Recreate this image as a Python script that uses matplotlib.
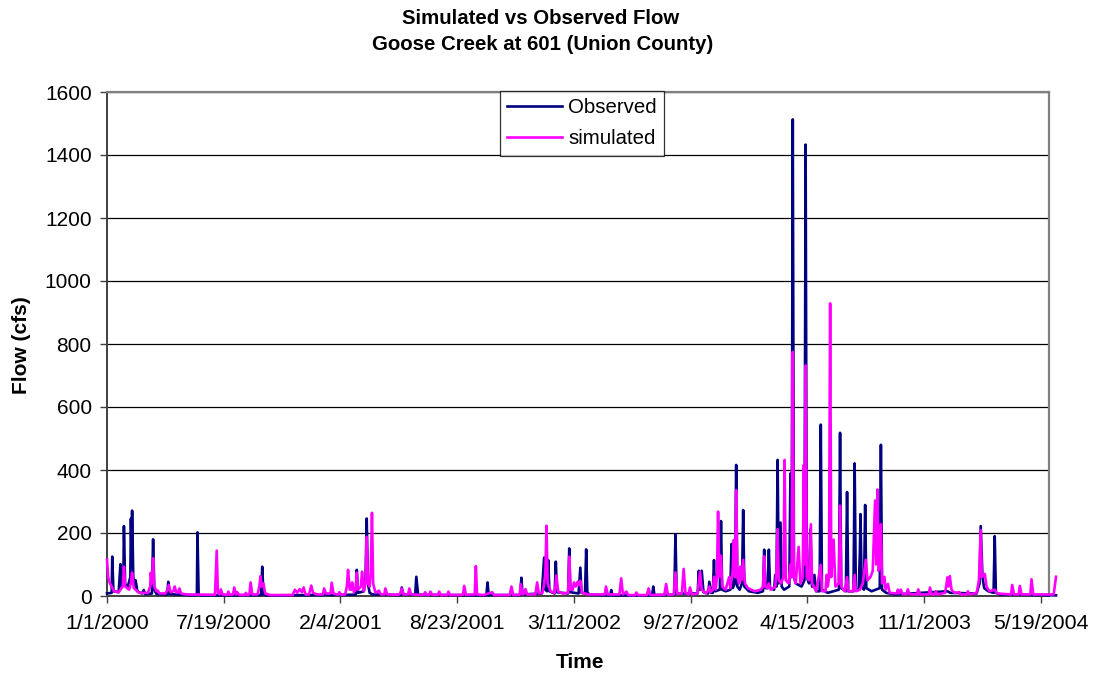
import matplotlib
matplotlib.use("Agg")
import matplotlib.pyplot as plt

# ---- data (day offset from 1/1/2000, flow in cfs) ----
obs_day = [0, 8, 9, 11, 20, 23, 25, 28, 29, 31, 35, 40, 41, 42, 43, 45, 48, 49, 52, 60, 63, 65, 77, 79, 81, 85,
           103, 105, 107, 150, 154, 155, 157, 160, 264, 266, 268, 275, 426, 428, 430, 440, 443, 445, 447, 450, 455,
           503, 505, 508, 528, 530, 533, 650, 652, 654, 708, 710, 712, 745, 749, 751, 754, 756, 758, 767, 769, 771,
           790, 792, 794, 808, 811, 813, 819, 821, 823, 828, 862, 864, 866, 934, 936, 938, 972, 974, 976, 1012, 1014,
           1016, 1019, 1022, 1030, 1032, 1035, 1038, 1040, 1042, 1050, 1052, 1054, 1060, 1068, 1070, 1072, 1076, 1078,
           1080, 1084, 1088, 1090, 1092, 1100, 1115, 1124, 1126, 1128, 1132, 1134, 1136, 1143, 1145, 1147, 1149, 1151,
           1154, 1156, 1160, 1169, 1171, 1173, 1175, 1177, 1180, 1190, 1195, 1197, 1199, 1203, 1205, 1208, 1212, 1215,
           1221, 1223, 1225, 1235, 1254, 1256, 1258, 1266, 1268, 1270, 1279, 1281, 1283, 1288, 1290, 1291, 1293, 1297,
           1299, 1301, 1310, 1324, 1326, 1328, 1335, 1350, 1440, 1445, 1490, 1495, 1497, 1500, 1503, 1510, 1519, 1521,
           1523, 1530, 1600, 1626]
obs_flow = [8, 10, 125, 15, 12, 101, 30, 40, 222, 40, 25, 60, 246, 120, 271, 60, 30, 50, 15, 8, 19, 6, 8, 180, 20, 6,
            5, 45, 6, 2, 3, 202, 5, 2, 3, 93, 5, 2, 4, 83, 10, 15, 60, 246, 40, 10, 5,
            3, 27, 5, 4, 61, 4, 2, 43, 3, 3, 58, 5, 8, 122, 20, 15, 114, 15, 8, 109, 12,
            8, 151, 12, 8, 90, 10, 8, 148, 10, 4, 2, 19, 2, 2, 30, 3, 4, 196, 8, 8, 80,
            20, 80, 12, 8, 45, 10, 10, 114, 15, 20, 238, 20, 15, 20, 165, 25, 40, 416,
            30, 20, 40, 273, 30, 15, 10, 15, 147, 25, 25, 147, 25, 20, 67, 30, 432, 40,
            233, 30, 20, 30, 389, 60, 1513, 60, 40, 30, 50, 1433, 60, 40, 212, 30, 67, 15,
            15, 544, 20, 10, 20, 518, 25, 15, 330, 15, 15, 421, 20, 20, 142, 260, 30, 20,
            289, 25, 15, 25, 480, 20, 10, 5, 15, 10, 8, 40, 222, 60, 25, 15, 10, 190,
            10, 5, 3, 2]

sim_day = [0, 2, 5, 8, 12, 20, 27, 29, 31, 38, 41, 43, 46, 55, 70, 74, 75, 77, 79, 81, 85, 87, 90, 100, 104, 106, 109,
           114, 116, 119, 122, 124, 127, 135, 185, 188, 190, 193, 195, 198, 206, 208, 210, 216, 218, 221, 223, 226, 236,
           238, 240, 244, 246, 249, 258, 261, 263, 265, 268, 271, 280, 318, 322, 326, 330, 334, 337, 340, 346, 350, 353,
           360, 370, 372, 375, 383, 385, 388, 396, 398, 401, 408, 411, 413, 416, 418, 420, 423, 426, 428, 430, 435, 437,
           440, 443, 445, 447, 450, 452, 454, 456, 460, 466, 469, 475, 477, 480, 500, 503, 505, 508, 516, 518, 521, 543,
           545, 548, 552, 554, 557, 567, 569, 572, 583, 585, 588, 610, 612, 615, 630, 632, 634, 645, 660, 663, 690, 693,
           696, 707, 709, 712, 715, 717, 720, 734, 737, 740, 746, 749, 751, 753, 755, 760, 767, 770, 773, 780, 790, 792,
           794, 798, 800, 803, 806, 808, 811, 814, 825, 853, 855, 858, 878, 881, 884, 890, 893, 905, 907, 910, 925, 928,
           931, 955, 958, 961, 971, 974, 977, 985, 988, 991, 996, 999, 1002, 1012, 1016, 1019, 1026, 1029, 1032, 1034,
           1038, 1040, 1043, 1045, 1047, 1049, 1052, 1054, 1060, 1066, 1068, 1072, 1074, 1076, 1078, 1080, 1083, 1085,
           1087, 1090, 1093, 1098, 1110, 1120, 1124, 1126, 1128, 1132, 1134, 1137, 1145, 1147, 1149, 1151, 1155, 1159,
           1161, 1163, 1168, 1171, 1173, 1175, 1177, 1180, 1185, 1188, 1192, 1194, 1195, 1197, 1199, 1203, 1206, 1208,
           1215, 1223, 1225, 1231, 1233, 1235, 1237, 1239, 1241, 1245, 1248, 1254, 1256, 1258, 1264, 1268, 1270, 1278,
           1281, 1283, 1290, 1295, 1300, 1303, 1308, 1312, 1316, 1318, 1320, 1322, 1324, 1326, 1328, 1332, 1334, 1338,
           1341, 1353, 1355, 1357, 1360, 1363, 1370, 1372, 1375, 1388, 1390, 1393, 1408, 1410, 1413, 1418, 1420, 1423,
           1436, 1440, 1442, 1444, 1447, 1452, 1460, 1463, 1473, 1475, 1478, 1490, 1494, 1497, 1499, 1504, 1507, 1512,
           1521, 1525, 1549, 1551, 1554, 1562, 1564, 1567, 1582, 1584, 1587, 1622, 1626]
sim_flow = [116, 60, 40, 30, 15, 12, 30, 93, 30, 20, 40, 74, 25, 10, 10, 30, 74, 40, 120, 30, 15, 17, 8, 8, 20, 35, 12,
            15, 30, 10, 12, 24, 8, 5, 4, 144, 10, 5, 21, 5, 4, 14, 4, 5, 27, 5, 12, 4, 3,
            10, 3, 5, 43, 5, 5, 30, 63, 30, 40, 8, 3, 3, 20, 10, 22, 12, 27, 5, 5, 33, 10,
            5, 5, 24, 8, 8, 42, 8, 4, 12, 4, 5, 30, 83, 20, 20, 43, 12, 20, 74, 20, 30, 77,
            15, 40, 188, 40, 30, 80, 264, 40, 10, 17, 5, 5, 24, 5, 4, 10, 24, 5, 5, 24, 5, 3,
            12, 3, 4, 14, 4, 4, 14, 3, 3, 14, 3, 4, 32, 4, 5, 95, 5, 3, 12, 3, 3, 30,
            3, 4, 38, 5, 8, 22, 5, 5, 43, 8, 10, 40, 70, 223, 40, 15, 10, 65, 15, 8, 10, 125,
            20, 20, 43, 30, 45, 35, 48, 10, 5, 5, 30, 5, 5, 56, 5, 14, 3, 3, 11, 3, 3, 24,
            3, 4, 38, 4, 5, 75, 8, 8, 86, 10, 5, 27, 5, 8, 77, 20, 8, 15, 30, 12,
            20, 61, 20, 60, 268, 60, 128, 30, 20, 60, 25, 80, 178, 60, 336, 60, 40, 93,
            50, 115, 40, 25, 15, 20, 30, 126, 30, 25, 40, 20, 30, 80, 212, 50, 40, 60,
            432, 50, 40, 100, 60, 775, 60, 40, 156, 40, 60, 416, 100, 732, 60, 50, 228, 40,
            15, 99, 15, 15, 67, 30, 60, 929, 60, 179, 30, 40, 287, 30, 15, 60, 15, 15,
            67, 15, 20, 40, 115, 50, 60, 80, 303, 100, 338, 80, 100, 228, 40, 61, 20, 38,
            10, 8, 20, 8, 20, 6, 6, 21, 6, 5, 21, 5, 5, 27, 5, 5, 15, 5,
            10, 59, 30, 63, 20, 10, 12, 5, 5, 15, 5, 10, 50, 209, 60, 70, 30, 15,
            20, 8, 5, 35, 5, 5, 32, 5, 5, 53, 5, 5, 61]

tick_days = [0, 200, 400, 600, 800, 1000, 1200, 1400, 1600]
tick_labels = ['1/1/2000', '7/19/2000', '2/4/2001', '8/23/2001', '3/11/2002',
               '9/27/2002', '4/15/2003', '11/1/2003', '5/19/2004']
y_ticks = [0, 200, 400, 600, 800, 1000, 1200, 1400, 1600]

plt.rcParams['font.family'] = ['Liberation Sans', 'DejaVu Sans']

W, H = 1096, 677
fig = plt.figure(figsize=(W / 100, H / 100), dpi=100)
fig.patch.set_facecolor('white')
ax = fig.add_axes([107 / W, 1 - 596 / H, (1049 - 107) / W, (596 - 92) / H])

ax.plot(obs_day, obs_flow, color='#000080', lw=1.9, label='Observed', clip_on=False, zorder=3)
ax.plot(sim_day, sim_flow, color='#FF00FF', lw=1.9, label='simulated', clip_on=False, zorder=4)

ax.set_xlim(0, 1614)
ax.set_ylim(0, 1600)
ax.set_yticks(y_ticks)
ax.set_yticklabels([str(v) for v in y_ticks], fontsize=15)
ax.set_xticks(tick_days)
ax.set_xticklabels(tick_labels, fontsize=15.4)
ax.tick_params(axis='both', direction='out', length=5, width=1, color='#404040', pad=6)
ax.tick_params(axis='x', pad=8)

ax.yaxis.grid(True, color='black', lw=0.9, zorder=0)
ax.set_axisbelow(True)
for s in ['top', 'right']:
    ax.spines[s].set_color('#808080')
    ax.spines[s].set_linewidth(1.6)
for s in ['left', 'bottom']:
    ax.spines[s].set_color('#404040')
    ax.spines[s].set_linewidth(1.4)

fig.text(541 / W, 1 - 19 / H, 'Simulated vs Observed Flow', ha='center', va='center',
         fontsize=14.7, fontweight='bold')
fig.text(543 / W, 1 - 44 / H, 'Goose Creek at 601 (Union County)', ha='center', va='center',
         fontsize=14.7, fontweight='bold')
fig.text(22 / W, 1 - 345 / H, 'Flow (cfs)', rotation=90, ha='center', va='center',
         fontsize=15, fontweight='bold')
fig.text(580 / W, 1 - 663 / H, 'Time', ha='center', va='center', fontsize=15, fontweight='bold')

leg = ax.legend(loc='upper left', bbox_to_anchor=(500 / W, 1 - 91 / H), bbox_transform=fig.transFigure,
                fontsize=14.7, frameon=True, fancybox=False, shadow=False, handlelength=2.7,
                borderpad=0.35, labelspacing=0.6, handletextpad=0.3, borderaxespad=0)
leg.get_frame().set_edgecolor('black')
leg.get_frame().set_linewidth(0.9)
leg.set_zorder(10)

fig.savefig('out.png', dpi=100, facecolor='white')
